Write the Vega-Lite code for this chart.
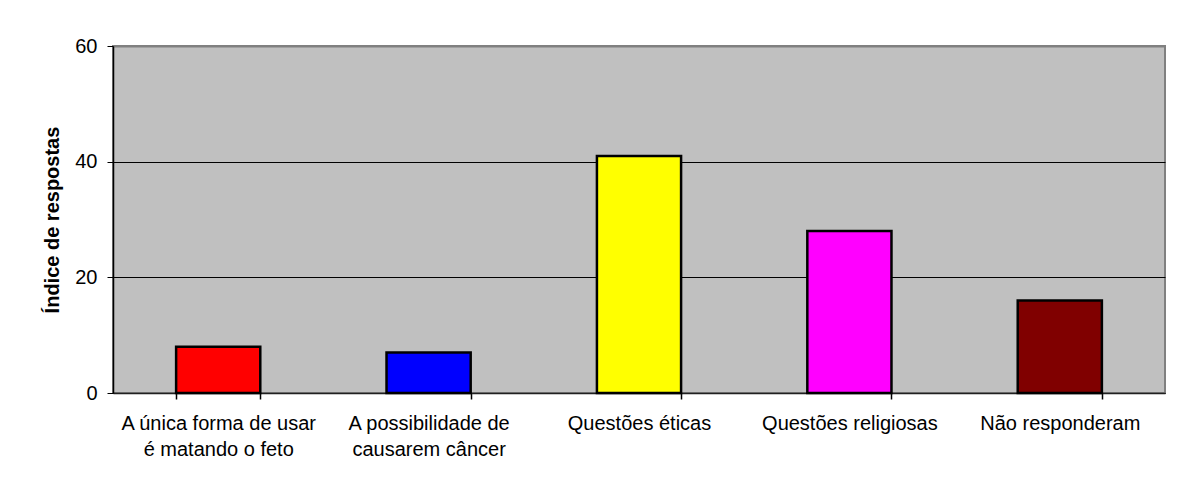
{
  "$schema": "https://vega.github.io/schema/vega-lite/v6.json",
  "autosize": {"type": "none"},
  "width": 1052,
  "height": 347,
  "padding": {"left": 113, "top": 46, "right": 19, "bottom": 94},
  "background": "white",
  "data": {
    "values": [
      {"categoria": "A única forma de usar\né matando o feto", "indice": 8, "cor": "#FF0000"},
      {"categoria": "A possibilidade de\ncausarem câncer", "indice": 7, "cor": "#0000FF"},
      {"categoria": "Questões éticas", "indice": 41, "cor": "#FFFF00"},
      {"categoria": "Questões religiosas", "indice": 28, "cor": "#FF00FF"},
      {"categoria": "Não responderam", "indice": 16, "cor": "#800000"}
    ]
  },
  "mark": {"type": "bar", "stroke": "black", "strokeWidth": 2.5},
  "encoding": {
    "x": {
      "field": "categoria",
      "type": "nominal",
      "sort": null,
      "scale": {"paddingInner": 0.6, "paddingOuter": 0.3},
      "axis": {
        "title": null,
        "labelAngle": 0,
        "labelExpr": "datum.value ? split(datum.value, '\\n') : ''",
        "labelLimit": 0,
        "labelLineHeight": 26,
        "labelFontSize": 20,
        "labelFont": "Liberation Sans",
        "labelColor": "black",
        "labelPadding": 14,
        "labelOverlap": false,
        "tickBand": "extent",
        "tickSize": 6,
        "tickWidth": 1.5,
        "tickColor": "black",
        "domainColor": "#202020",
        "domainWidth": 1.5,
        "grid": false
      }
    },
    "y": {
      "field": "indice",
      "type": "quantitative",
      "scale": {"domain": [0, 60], "nice": false},
      "axis": {
        "title": "Índice de respostas",
        "titleFont": "Liberation Sans",
        "titleFontSize": 20,
        "titleFontWeight": "bold",
        "titleColor": "black",
        "titlePadding": 12,
        "values": [0, 20, 40, 60],
        "labelFontSize": 20,
        "labelFont": "Liberation Sans",
        "labelColor": "black",
        "labelPadding": 10,
        "tickSize": 6,
        "tickColor": "black",
        "domainColor": "black",
        "domainWidth": 1.5,
        "grid": true,
        "gridColor": {"condition": {"test": "datum.value == 60", "value": "#808080"}, "value": "black"},
        "gridWidth": {"condition": {"test": "datum.value == 60", "value": 2}, "value": 1},
        "gridOpacity": 1
      }
    },
    "fill": {"field": "cor", "type": "nominal", "scale": null, "legend": null}
  },
  "config": {
    "view": {"fill": "#C0C0C0", "stroke": "#808080", "strokeWidth": 2}
  }
}
